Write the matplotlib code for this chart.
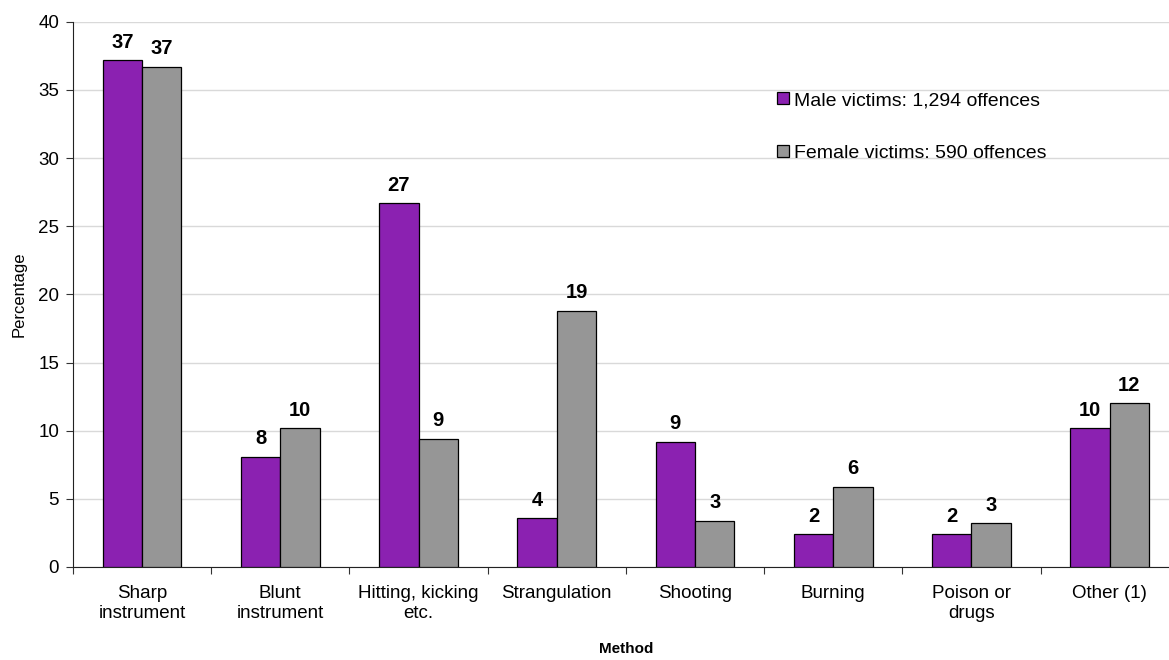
import numpy as np
import matplotlib
matplotlib.use("Agg")
import matplotlib.pyplot as plt

plt.rcParams['font.family'] = ['Liberation Sans', 'DejaVu Sans']

# data
methods = ["Sharp\ninstrument", "Blunt\ninstrument", "Hitting, kicking\netc.", "Strangulation",
           "Shooting", "Burning", "Poison or\ndrugs", "Other (1)"]
male = [37.2, 8.1, 26.7, 3.6, 9.2, 2.4, 2.4, 10.2]
female = [36.7, 10.2, 9.4, 18.8, 3.4, 5.9, 3.2, 12.0]
male_label = "Male victims: 1,294 offences"
female_label = "Female victims: 590 offences"

fig = plt.figure(figsize=(11.69, 6.6), dpi=100)
# axes run a little past the right edge, like the original crop
ax = fig.add_axes([0.0624, 0.141, 0.946, 0.826])

x = np.arange(len(methods))
w = 0.285
b1 = ax.bar(x - w/2, male, w, color='#8B21B1', edgecolor='black', linewidth=0.9, label=male_label, zorder=3)
b2 = ax.bar(x + w/2, female, w, color='#969696', edgecolor='black', linewidth=0.9, label=female_label, zorder=3)

for bars, vals in [(b1, male), (b2, female)]:
    for r, v in zip(bars, vals):
        ax.annotate(f"{v:.0f}", (r.get_x() + r.get_width()/2, v), xytext=(0, 6),
                    textcoords='offset points', ha='center', va='bottom',
                    fontsize=14.5, fontweight='bold')

ax.set_xlim(-0.5, len(methods) - 0.5)
ax.set_ylim(0, 40)
ax.set_yticks(np.arange(0, 41, 5))
ax.yaxis.grid(True, color='#d9d9d9', linewidth=1, zorder=0)
ax.set_axisbelow(True)

# ticks at category boundaries, labels at centres
ax.set_xticks(np.arange(-0.5, len(methods), 1))
ax.set_xticklabels([])
ax.set_xticks(x, minor=True)
ax.set_xticklabels(methods, minor=True, fontsize=13.5, linespacing=1.25)
ax.tick_params(axis='x', which='minor', length=0, pad=13)
ax.tick_params(axis='x', which='major', length=5, direction='out', color='#333333')
ax.tick_params(axis='y', length=5, direction='out', labelsize=13.5, color='#333333', pad=5)

for s in ['top', 'right']:
    ax.spines[s].set_visible(False)
for s in ['left', 'bottom']:
    ax.spines[s].set_color('#222222')

ax.set_xlabel("Method", fontsize=11, fontweight='bold', labelpad=14)
ax.set_ylabel("Percentage", fontsize=12, labelpad=8)

ax.legend(loc='upper left', bbox_to_anchor=(0.650, 0.887), bbox_transform=fig.transFigure,
          frameon=False, fontsize=14, handlelength=0.6, handleheight=0.6,
          handletextpad=0.25, labelspacing=1.85)

fig.savefig("out.png", dpi=100)
